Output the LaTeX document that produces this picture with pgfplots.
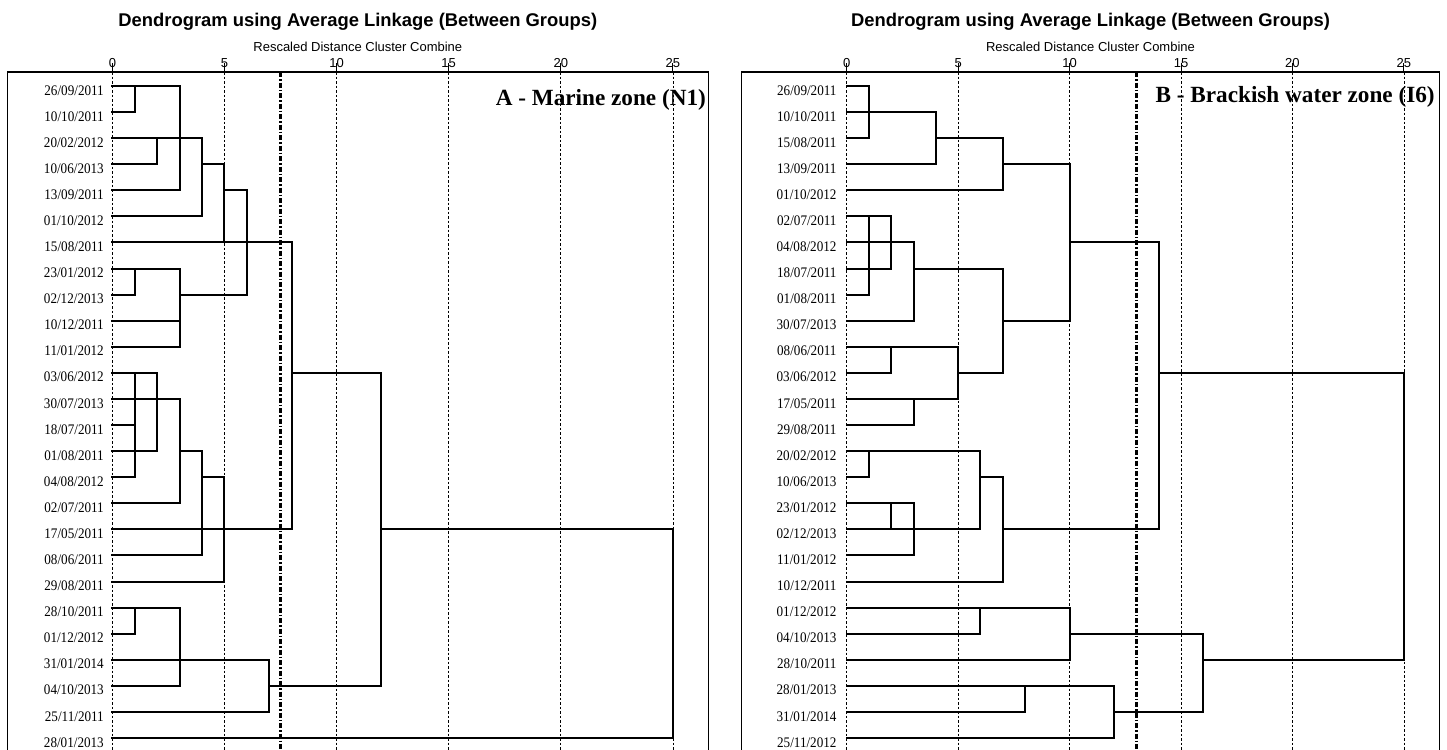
\documentclass[border=0pt]{standalone}
\usepackage{pgfplots}
\pgfplotsset{compat=1.18}
\usepackage{fontspec}
\setmainfont{Liberation Serif}
\setsansfont{Liberation Sans}
\newfontfamily\datefont[FakeStretch=0.9]{Liberation Serif}
\pgfplotsset{
  dendro/.style={
    scale only axis,
    height=680pt,
    y dir=reverse,
    ymin=-0.537, ymax=25.537,
    xtick={0,5,10,15,20,25},
    xtick pos=right, xticklabel pos=right,
    tick align=outside,
    major tick length=9pt,
    xtick style={black, line width=1pt},
    /pgf/number format/assume math mode=true,
    xticklabel style={font=\sffamily\fontsize{13}{14}\selectfont, anchor=base, yshift=-4pt},
    ytick={0,...,25},
    ytick style={draw=none},
    yticklabel style={font=\datefont\fontsize{14.6}{16}\selectfont, anchor=east, inner sep=0pt, yshift=-4.3pt},
    xmajorgrids,
    major grid style={black, line width=0.7pt, dash pattern=on 2.5pt off 2pt},
    axis line style={black, line width=1.4pt},
    clip=false,
    title style={font=\sffamily\bfseries\fontsize{18.4}{20}\selectfont, at={(0.5,1)}, anchor=center, yshift=44pt},
    xlabel style={font=\sffamily\fontsize{13}{15}\selectfont, at={(0.5,1)}, anchor=center, yshift=25pt},
    xlabel={Rescaled Distance Cluster Combine},
    title={Dendrogram using Average Linkage (Between Groups)},
    unbounded coords=jump,
  },
  tree/.style={black, line width=2pt, line cap=rect, no markers},
  cut/.style={black, line width=2.2pt, dash pattern=on 5pt off 2pt on 1.5pt off 2pt, no markers},
}
\begin{document}
\begin{tikzpicture}
% ---------------- Panel A ----------------
\begin{axis}[dendro,
  at={(7.3pt,-72pt)}, anchor=north west,
  width=701pt, xmin=-4.6875, xmax=26.58,
  yticklabel style={xshift=105.7pt},
  yticklabels={26/09/2011,10/10/2011,20/02/2012,10/06/2013,13/09/2011,01/10/2012,15/08/2011,23/01/2012,02/12/2013,10/12/2011,11/01/2012,03/06/2012,30/07/2013,18/07/2011,01/08/2011,04/08/2012,02/07/2011,17/05/2011,08/06/2011,29/08/2011,28/10/2011,01/12/2012,31/01/2014,04/10/2013,25/11/2011,28/01/2013},
]
\addplot[cut] coordinates {(7.5,-0.537) (7.5,25.537)};
\addplot[tree] coordinates {
(0,0) (3,0) (nan,nan)
(0,1) (1,1) (nan,nan)
(1,0) (1,1) (nan,nan)
(3,0) (3,4) (nan,nan)
(0,2) (4,2) (nan,nan)
(2,2) (2,3) (nan,nan)
(0,3) (2,3) (nan,nan)
(4,3) (5,3) (nan,nan)
(4,2) (4,5) (nan,nan)
(0,4) (3,4) (nan,nan)
(5,4) (6,4) (nan,nan)
(0,5) (4,5) (nan,nan)
(5,3) (5,6) (nan,nan)
(0,6) (8,6) (nan,nan)
(6,4) (6,8) (nan,nan)
(0,7) (3,7) (nan,nan)
(0,8) (1,8) (nan,nan)
(3,8) (6,8) (nan,nan)
(1,7) (1,8) (nan,nan)
(3,7) (3,10) (nan,nan)
(0,9) (3,9) (nan,nan)
(0,10) (3,10) (nan,nan)
(8,6) (8,17) (nan,nan)
(0,11) (2,11) (nan,nan)
(8,11) (12,11) (nan,nan)
(1,11) (1,15) (nan,nan)
(2,11) (2,14) (nan,nan)
(0,12) (3,12) (nan,nan)
(3,12) (3,16) (nan,nan)
(0,13) (1,13) (nan,nan)
(0,14) (2,14) (nan,nan)
(3,14) (4,14) (nan,nan)
(0,15) (1,15) (nan,nan)
(4,15) (5,15) (nan,nan)
(0,16) (3,16) (nan,nan)
(4,14) (4,18) (nan,nan)
(0,17) (8,17) (nan,nan)
(0,18) (4,18) (nan,nan)
(5,15) (5,19) (nan,nan)
(0,19) (5,19) (nan,nan)
(0,20) (3,20) (nan,nan)
(1,20) (1,21) (nan,nan)
(0,21) (1,21) (nan,nan)
(3,20) (3,23) (nan,nan)
(0,22) (7,22) (nan,nan)
(0,23) (3,23) (nan,nan)
(7,23) (12,23) (nan,nan)
(7,22) (7,24) (nan,nan)
(0,24) (7,24) (nan,nan)
(0,25) (25,25) (nan,nan)
(12,11) (12,23) (nan,nan)
(12,17) (25,17) (nan,nan)
(25,17) (25,25)
};
\node[anchor=east, inner sep=0pt, font=\bfseries\fontsize{23.2}{26}\selectfont] at (axis cs:26.48,0.55) {A - Marine zone (N1)};
\end{axis}
% ---------------- Panel B ----------------
\begin{axis}[dendro,
  at={(741.7pt,-72pt)}, anchor=north west,
  width=697.6pt, xmin=-4.71, xmax=26.59,
  yticklabel style={xshift=104pt},
  yticklabels={26/09/2011,10/10/2011,15/08/2011,13/09/2011,01/10/2012,02/07/2011,04/08/2012,18/07/2011,01/08/2011,30/07/2013,08/06/2011,03/06/2012,17/05/2011,29/08/2011,20/02/2012,10/06/2013,23/01/2012,02/12/2013,11/01/2012,10/12/2011,01/12/2012,04/10/2013,28/10/2011,28/01/2013,31/01/2014,25/11/2012},
]
\addplot[cut] coordinates {(13,-0.537) (13,25.537)};
\addplot[tree] coordinates {
(0,0) (1,0) (nan,nan)
(1,0) (1,2) (nan,nan)
(0,1) (4,1) (nan,nan)
(0,2) (1,2) (nan,nan)
(4,2) (7,2) (nan,nan)
(4,1) (4,3) (nan,nan)
(0,3) (4,3) (nan,nan)
(7,3) (10,3) (nan,nan)
(7,2) (7,4) (nan,nan)
(0,4) (7,4) (nan,nan)
(10,3) (10,9) (nan,nan)
(0,5) (2,5) (nan,nan)
(1,5) (1,8) (nan,nan)
(2,5) (2,7) (nan,nan)
(0,6) (3,6) (nan,nan)
(10,6) (14,6) (nan,nan)
(3,6) (3,9) (nan,nan)
(0,7) (2,7) (nan,nan)
(3,7) (7,7) (nan,nan)
(0,8) (1,8) (nan,nan)
(0,9) (3,9) (nan,nan)
(7,9) (10,9) (nan,nan)
(7,7) (7,11) (nan,nan)
(0,10) (5,10) (nan,nan)
(2,10) (2,11) (nan,nan)
(5,10) (5,12) (nan,nan)
(0,11) (2,11) (nan,nan)
(5,11) (7,11) (nan,nan)
(14,11) (25,11) (nan,nan)
(0,12) (5,12) (nan,nan)
(3,12) (3,13) (nan,nan)
(0,13) (3,13) (nan,nan)
(0,14) (6,14) (nan,nan)
(1,14) (1,15) (nan,nan)
(0,15) (1,15) (nan,nan)
(6,15) (7,15) (nan,nan)
(6,14) (6,17) (nan,nan)
(0,16) (3,16) (nan,nan)
(2,16) (2,17) (nan,nan)
(0,17) (6,17) (nan,nan)
(7,17) (14,17) (nan,nan)
(3,16) (3,18) (nan,nan)
(0,18) (3,18) (nan,nan)
(7,15) (7,19) (nan,nan)
(0,19) (7,19) (nan,nan)
(14,6) (14,17) (nan,nan)
(0,20) (10,20) (nan,nan)
(6,20) (6,21) (nan,nan)
(0,21) (6,21) (nan,nan)
(10,21) (16,21) (nan,nan)
(10,20) (10,22) (nan,nan)
(0,22) (10,22) (nan,nan)
(16,22) (25,22) (nan,nan)
(16,21) (16,24) (nan,nan)
(25,11) (25,22) (nan,nan)
(0,23) (12,23) (nan,nan)
(8,23) (8,24) (nan,nan)
(0,24) (8,24) (nan,nan)
(12,24) (16,24) (nan,nan)
(12,23) (12,25) (nan,nan)
(0,25) (12,25)
};
\node[anchor=east, inner sep=0pt, font=\bfseries\fontsize{23.2}{26}\selectfont] at (axis cs:26.39,0.42) {B - Brackish water zone (I6)};
\end{axis}
\pgfresetboundingbox
\path[use as bounding box] (0pt,0pt) rectangle (1447pt,-749pt);
\end{tikzpicture}
\end{document}
